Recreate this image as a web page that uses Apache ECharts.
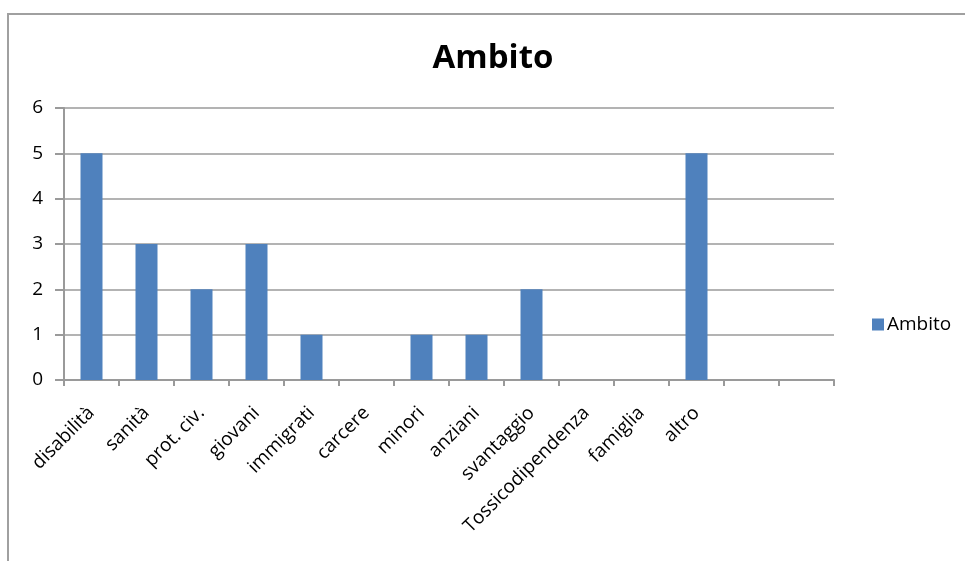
<!DOCTYPE html>
<html>
<head>
<meta charset="utf-8">
<script src="https://cdn.jsdelivr.net/npm/echarts@6/dist/echarts.min.js"></script>
<style>
  html, body { margin: 0; padding: 0; background: #fff; }
  #chart { width: 965px; height: 561px; }
</style>
</head>
<body>
<div id="chart"></div>
<script>
// Categories (the last two slots are empty, as in the source worksheet)
const categories = ['disabilità', 'sanità', 'prot. civ.', 'giovani', 'immigrati', 'carcere',
  'minori', 'anziani', 'svantaggio', 'Tossicodipendenza', 'famiglia', 'altro', '', ' '];
const ambitoValues = [5, 3, 2, 3, 1, 0, 1, 1, 2, 0, 0, 5, null, null];
const yTicks = [0, 1, 2, 3, 4, 5, 6];

const font = '"Open Sans", "Liberation Sans", sans-serif';
const chart = echarts.init(document.getElementById('chart'), null, { renderer: 'canvas' });

chart.setOption({
  animation: false,
  backgroundColor: '#ffffff',
  title: {
    text: 'Ambito',
    left: 488,
    textAlign: 'center',
    top: 37,
    textStyle: { fontFamily: font, fontSize: 33, fontWeight: 'bold', color: '#000' }
  },
  legend: {
    data: ['Ambito'],
    left: 867,
    top: 310,
    itemWidth: 12,
    itemHeight: 12,
    itemGap: 4,
    icon: 'rect',
    textStyle: { fontFamily: font, fontSize: 19, color: '#000', padding: [0, 0, 0, -2] }
  },
  grid: { left: 64, right: 131, top: 108, bottom: 181, containLabel: false },
  xAxis: {
    type: 'category',
    data: categories,
    axisLine: { lineStyle: { color: '#9a9a9a', width: 2 } },
    axisTick: { show: true, alignWithLabel: false, length: 6, lineStyle: { color: '#9a9a9a', width: 2 } },
    axisLabel: {
      interval: 0,
      rotate: 45,
      margin: 30,
      fontFamily: font,
      fontSize: 19,
      color: '#000'
    }
  },
  yAxis: {
    type: 'value',
    min: yTicks[0],
    max: yTicks[yTicks.length - 1],
    interval: 1,
    axisLine: { show: true, lineStyle: { color: '#9a9a9a', width: 2 } },
    axisTick: { show: true, length: 9, lineStyle: { color: '#9a9a9a', width: 2 } },
    splitLine: { show: true, lineStyle: { color: '#9a9a9a', width: 1.5 } },
    axisLabel: { fontFamily: font, fontSize: 19, color: '#000', margin: 21 }
  },
  series: [{
    name: 'Ambito',
    type: 'bar',
    data: ambitoValues,
    barWidth: 22,
    itemStyle: { color: '#4f81bd' }
  }],
  graphic: [{
    type: 'rect',
    shape: { x: 8, y: 14, width: 1000, height: 600 },
    style: { fill: 'none', stroke: '#a0a0a0', lineWidth: 2 },
    silent: true
  }]
});
</script>
</body>
</html>
